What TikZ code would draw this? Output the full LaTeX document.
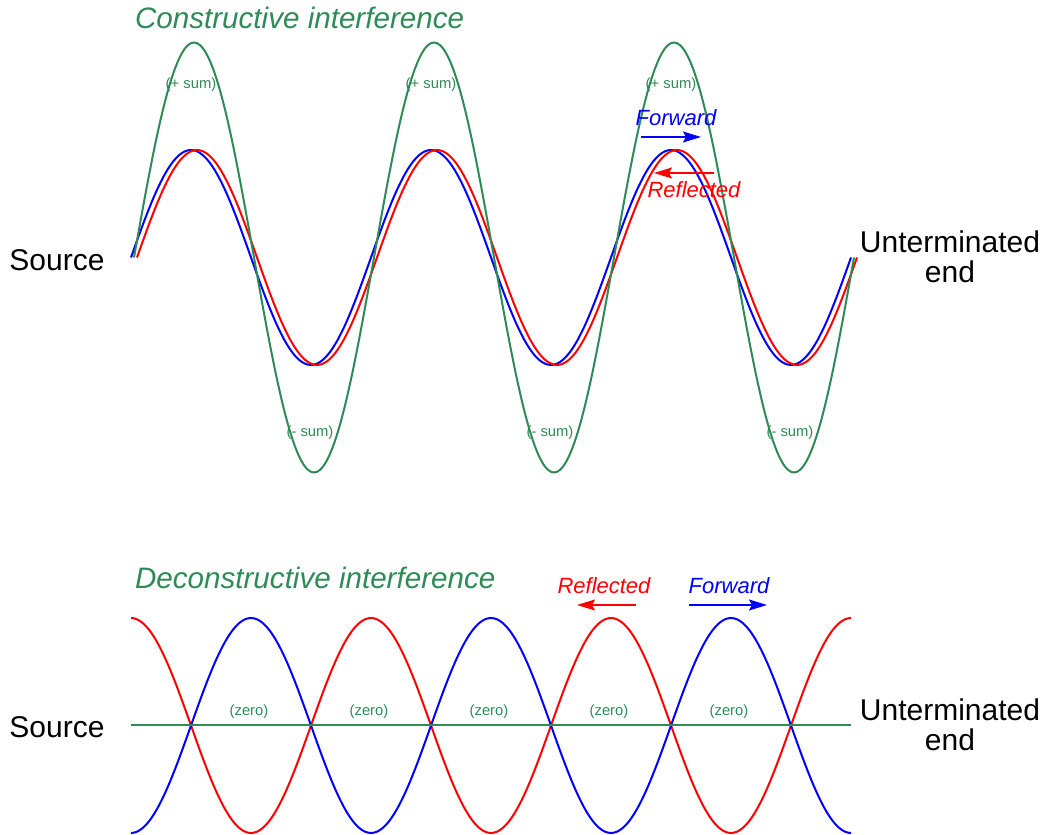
\documentclass[tikz,border=0pt]{standalone}
\usepackage{fontspec}
\setmainfont{Liberation Sans}
\usetikzlibrary{arrows.meta}
\definecolor{sumgreen}{RGB}{46,139,87}
\begin{document}
\begin{tikzpicture}[x=0.5pt,y=0.5pt,
        wave/.style={line width=1pt},
        title/.style={anchor=west,text=sumgreen,font=\fontsize{14.8}{15}\selectfont\itshape},
        big/.style={font=\fontsize{15}{15}\selectfont,align=center},
        small/.style={text=sumgreen,font=\fontsize{7.4}{7.4}\selectfont},
        dir/.style={font=\fontsize{11}{11}\selectfont\itshape},
        dirarrow/.style={line width=0.8pt,-{Stealth[length=9pt,width=5.5pt,inset=1.5pt]}}]
            \useasboundingbox (0,0) rectangle (1045,835);
            % constructive
            \draw[wave,blue] plot[domain=131:851,samples=241,smooth] (\x,{577.5+107.5*sin(1.5*(\x-131))});
            \draw[wave,red] plot[domain=137:857,samples=241,smooth] (\x,{577.5+107.5*sin(1.5*(\x-137))});
            \draw[wave,sumgreen] plot[domain=134:854,samples=241,smooth] (\x,{577.5+215*sin(1.5*(\x-134))});
            \node[title] (ctitle) at (128,817) {Constructive interference};
            \node[big] (csource) at (57,575) {Source};
            \node[big] (cend) at (950,578) {Unterminated\\end};
            \foreach \i in {0,1,2} {
                \node[small] (psum\i) at ({191+240*\i},750) {(+ sum)};
                \node[small] (msum\i) at ({310+240*\i},402) {(- sum)};
            }
            \coordinate (cfwda) at (641,698);
            \coordinate (cfwdb) at (701,698);
            \coordinate (crefa) at (714,662);
            \coordinate (crefb) at (654,662);
            \node[dir,text=blue] (cfwd) at (676,717) {Forward};
            \node[dir,text=red] (cref) at (694,645) {Reflected};
            \draw[dirarrow,blue] (cfwda) -- (cfwdb);
            \draw[dirarrow,red] (crefa) -- (crefb);
            % deconstructive
            \draw[wave,red] plot[domain=131:851,samples=241,smooth] (\x,{109.5+107.5*cos(1.5*(\x-131))});
            \draw[wave,blue] plot[domain=131:851,samples=241,smooth] (\x,{109.5-107.5*cos(1.5*(\x-131))});
            \coordinate (zleft) at (131,109.5);
            \coordinate (zright) at (851,109.5);
            \draw[wave,sumgreen] (zleft) -- (zright);
            \node[title] (dtitle) at (128,257) {Deconstructive interference};
            \node[big] (dsource) at (57,108) {Source};
            \node[big] (dend) at (950,110) {Unterminated\\end};
            \foreach \i in {0,...,4}
                \node[small] (zero\i) at ({249+120*\i},123) {(zero)};
            \coordinate (drefa) at (636,230);
            \coordinate (drefb) at (577,230);
            \coordinate (dfwda) at (689,230);
            \coordinate (dfwdb) at (767,230);
            \node[dir,text=red] (dref) at (604,249) {Reflected};
            \node[dir,text=blue] (dfwd) at (729,249) {Forward};
            \draw[dirarrow,red] (drefa) -- (drefb);
            \draw[dirarrow,blue] (dfwda) -- (dfwdb);
        \end{tikzpicture}
\end{document}
